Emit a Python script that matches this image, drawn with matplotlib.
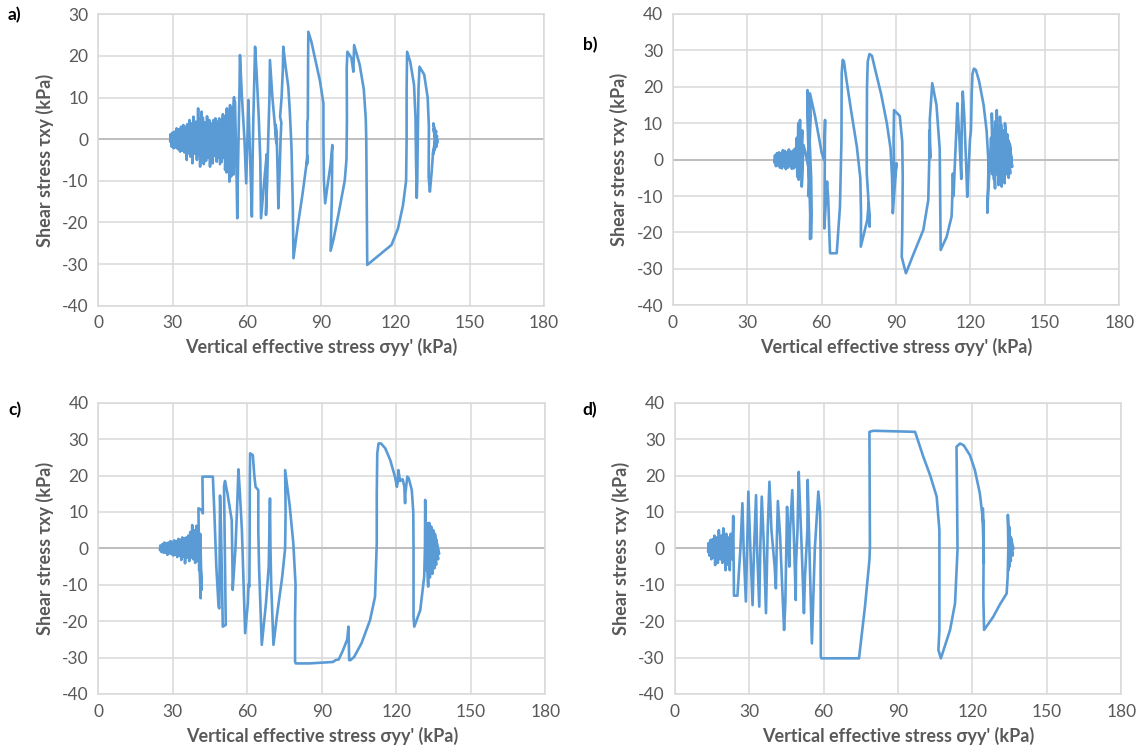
import matplotlib
matplotlib.use("Agg")
import matplotlib.pyplot as plt

plt.rcParams['font.family'] = ['Lato', 'DejaVu Sans']

# ---------------- data ----------------
x_ticks = [0, 30, 60, 90, 120, 150, 180]
y_ticks_a = [-40, -30, -20, -10, 0, 10, 20, 30]
y_ticks_bcd = [-40, -30, -20, -10, 0, 10, 20, 30, 40]
panel_labels = ["a)", "b)", "c)", "d)"]
x_title = "Vertical effective stress σyy' (kPa)"
y_title = "Shear stress τxy (kPa)"

# Panel a: (sigma_yy', tau_xy) pairs
a_right = [(136.0,0.0),(135.4,2.5),(136.6,-1.8),(135.3,3.8),(136.2,1.0),(137.1,-0.5),(135.6,-2.8),
           (136.4,2.0),(135.2,-3.6),(136.8,0.8),(135.8,-2.0),(135.2,-3.0)]
a_loops = [(134.6,-8.0),(133.9,-12.6),(133.4,-9.0),(133.5,3.0),(133.0,10.0),(131.6,15.5),(129.7,17.4),
           (129.3,12.0),(129.0,0.0),(128.8,-10.0),(128.6,-14.1),(128.3,-5.0),(128.1,5.0),(127.5,13.0),
           (126.0,18.5),(124.7,21.0),(124.5,12.0),(124.5,0.0),(124.3,-10.0),(123.0,-16.0),(121.0,-21.5),
           (118.4,-25.4),(108.6,-30.2),(108.4,-15.0),(108.2,0.0),(108.0,5.0),(107.2,12.0),(105.5,18.0),
           (103.3,22.6),(103.0,16.2),(102.2,19.5),(100.6,21.0),(100.3,17.0),(100.4,5.0),(100.2,-5.0),
           (99.5,-10.0),(97.0,-18.0),(95.0,-24.0),(93.8,-26.8),(94.3,-14.0),(94.5,-1.4),(93.8,-6.0),
           (92.6,-11.0),(91.6,-15.4),(91.1,-10.0),(90.9,0.0),(90.9,8.6),(89.5,14.0),(87.5,19.5),
           (86.0,23.5),(84.8,25.8),(84.7,18.0),(84.6,5.0),(84.4,4.0),(84.3,-6.0),(84.5,-4.0),
           (82.5,-13.0),(80.5,-21.0),(78.8,-28.6),(78.5,-15.0),(78.0,-2.0),(77.3,7.0),(76.7,12.6),
           (75.5,18.0),(74.7,22.2),(74.5,16.6),(74.0,10.0),(73.4,5.4),(73.9,4.0),(73.6,0.0),
           (73.2,-8.0),(72.7,-16.6),(72.4,-8.0),(72.0,1.4),(71.6,3.5),(71.9,-1.0),(71.2,4.0),
           (70.3,10.0),(69.3,19.0),(69.1,10.0),(68.6,0.0),(68.2,-10.0),(67.7,-18.2),(68.0,-3.6),
           (67.0,-10.0),(65.7,-19.0),(65.4,-5.0),(64.8,5.0),(64.0,15.0),(63.3,22.2),(63.0,15.0),
           (62.6,5.0),(62.3,-5.0),(62.0,-18.6),(61.3,-5.0),(60.6,9.4),(60.2,0.0),(59.7,-10.6),
           (59.0,0.0),(58.0,10.0),(57.2,20.2),(57.0,12.0),(56.6,0.0),(56.3,-10.0),(56.1,-19.0),
           (55.8,-8.0),(55.5,0.0)]
a_blob = [(55.2,9.0),(54.6,-8.5),(54.8,10.1),(54.0,-7.0),(54.4,6.0),(53.6,-9.0),(53.9,7.5),(52.9,-10.2),
          (53.2,8.2),(52.5,-6.0),(52.6,6.5),(51.8,-8.0),(51.9,7.4),(51.2,-7.4),(51.0,5.5),(50.6,-4.5),
          (50.3,6.0),(49.8,-5.5),(49.9,4.6),(49.1,-6.0),(48.8,5.0),(48.4,-4.5),(48.1,4.2),(47.8,-5.4),
          (47.3,5.0),(46.9,-4.0),(46.5,4.6),(46.2,-5.8),(45.6,3.8),(45.1,-6.6),(44.8,4.6),(44.4,-4.5),
          (43.9,5.5),(43.5,-5.2),(43.0,4.0),(42.6,-6.0),(42.2,5.2),(41.8,-4.2),(41.7,6.6),(41.1,-6.6),
          (40.8,5.0),(40.6,-4.0),(40.3,7.4),(39.8,-5.0),(39.4,4.2),(39.0,-3.5),(38.4,5.4),(38.0,-5.8),
          (37.6,3.8),(37.2,-4.2),(36.8,4.6),(36.3,-3.4),(35.9,3.6),(35.7,-5.0),(35.2,3.0),(34.8,-3.2),
          (34.3,3.4),(33.9,-2.8),(33.4,3.0),(33.0,-3.0),(32.5,2.4),(32.1,-2.4),(31.6,2.6),(31.2,-2.0),
          (30.8,1.8),(30.4,-2.2),(30.0,1.6),(29.6,-1.8),(29.2,1.2),(29.0,-0.6),(29.5,0.8)]

# Panel b
b_right = [(136.5,0.0),(135.8,4.5),(136.8,-2.0),(135.2,5.4),(136.0,-3.8),(134.8,7.0),(135.4,-5.0),
           (133.9,10.0),(134.5,-4.0),(133.4,8.0),(133.8,-6.5),(132.5,9.5),(132.6,-7.4),(131.9,11.8),
           (132.0,-5.0),(131.3,9.0),(131.3,-7.0),(130.6,13.6),(130.5,-4.0),(130.0,10.5),(129.9,-7.9),
           (129.2,8.0),(129.5,-5.5),(128.6,12.7),(128.8,-4.0),(128.3,6.0),(127.8,-2.0),(127.2,-8.0),
           (126.8,-14.6)]
b_loops = [(127.2,-4.0),(127.2,0.0),(126.5,8.0),(125.3,15.0),(123.5,21.5),(122.2,24.6),(121.4,25.0),
           (120.8,23.5),(120.5,18.0),(120.2,8.0),(119.8,5.4),(119.2,-3.0),(118.7,-10.2),(118.3,-2.0),
           (117.5,12.0),(116.9,18.7),(116.5,10.0),(116.3,-5.3),(115.6,5.0),(114.7,15.5),(114.3,8.0),
           (113.6,-3.0),(113.2,-10.0),(112.9,-3.8),(112.6,-12.0),(112.4,-15.6),(110.4,-21.2),
           (108.0,-24.8),(107.8,-10.0),(107.6,3.0),(106.3,15.0),(104.6,21.0),(104.0,15.0),(103.6,10.9),
           (103.8,0.5),(103.4,8.0),(103.4,0.0),(103.0,-11.1),(101.0,-19.3),(97.0,-26.0),(94.0,-31.2),
           (93.5,-30.0),(92.3,-26.7),(92.5,-20.0),(92.7,-5.0),(92.5,5.0),(91.5,12.0),(89.2,13.6),
           (89.0,5.0),(89.3,-6.0),(90.2,-1.0),(89.4,-8.0),(88.7,-14.7),(88.4,-5.0),(87.8,3.0),
           (86.3,10.0),(84.0,18.0),(81.5,25.0),(80.3,28.5),(79.3,29.0),(78.6,27.0),(78.3,20.0),
           (78.2,5.0),(78.2,-3.8),(78.8,-10.2),(79.4,-18.4),(79.0,-12.0),(78.4,-16.6),(75.8,-23.9),
           (75.9,-15.0),(75.6,-5.0),(74.2,3.6),(72.0,13.0),(70.0,22.0),(69.0,27.0),(68.5,27.4),
           (68.1,23.7),(68.0,5.4),(67.4,-12.9),(66.1,-25.7),(63.4,-25.7),(63.0,-18.0),(62.7,-11.1),
           (62.2,-6.0),(61.1,-18.9),(61.4,10.9),(61.0,-0.1),(60.1,1.7),(57.4,11.8),(55.3,18.2),
           (55.6,12.0),(55.2,5.0),(55.8,-5.0),(56.0,-15.0),(55.8,-21.6),(55.3,-21.8),(55.4,-15.0),
           (55.0,-5.0),(54.6,5.0),(54.3,19.1),(54.5,10.0),(54.8,0.0),(55.0,-5.0),(55.3,-8.0),
           (54.6,-10.0),(54.9,-3.0),(53.5,2.0)]
b_blob = [(52.7,4.0),(52.0,-7.4),(52.2,8.0),(51.5,-4.5),(51.3,10.9),(50.8,-5.5),(50.6,10.0),(50.2,-4.7),
          (50.0,6.0),(49.6,-2.0),(49.2,3.0),(48.8,-2.4),(48.5,2.5),(48.0,-2.5),(47.6,2.2),(47.3,-1.8),
          (46.8,2.8),(46.4,-2.2),(46.0,2.0),(45.6,-2.6),(45.2,2.4),(44.8,-1.8),(44.4,2.6),(44.0,-2.4),
          (43.6,1.8),(43.2,-2.2),(42.8,2.0),(42.4,-1.6),(42.0,1.8),(41.6,-1.8),(41.2,1.2),(41.0,-0.8),
          (41.4,0.5)]

# Panel c
c_right = [(136.5,0.0),(137.2,-1.5),(136.0,2.5),(136.8,-3.0),(135.5,4.0),(136.0,-4.5),(134.8,5.0),
           (135.3,-5.5),(134.0,6.0),(134.5,-7.0),(133.2,7.0),(133.5,-8.0),(132.6,6.9),(132.8,-10.5),
           (132.1,5.0),(132.0,-6.0),(131.6,13.3)]
c_loops = [(131.5,0.0),(131.2,-7.8),(129.6,-17.0),(127.2,-21.5),(126.9,-18.8),(126.9,0.0),(126.8,10.0),
           (126.2,16.0),(125.0,19.2),(124.4,19.7),(123.6,15.0),(123.5,12.4),(123.2,17.0),(122.5,19.0),
           (121.5,18.5),(120.8,21.5),(120.5,18.0),(120.2,16.9),(119.5,19.5),(117.5,24.3),(115.5,27.5),
           (113.8,28.8),(112.8,28.8),(112.3,26.0),(112.1,15.0),(112.1,1.4),(111.4,-13.3),(109.4,-19.7),
           (106.0,-26.0),(103.0,-29.8),(101.5,-30.7),(101.0,-30.7),(100.7,-21.5),(100.2,-25.0),
           (98.5,-28.0),(96.8,-30.5),(95.5,-30.7),(94.5,-31.2),(85.0,-31.6),(79.5,-31.6),(79.2,-31.1),
           (79.2,-20.0),(79.4,-10.0),(78.5,1.4),(77.0,12.0),(75.2,21.5),(75.4,10.0),(75.2,0.0),
           (74.0,-8.0),(72.0,-18.0),(70.5,-26.5),(69.6,-10.0),(69.3,0.0),(69.1,13.7),(68.6,-5.0),
           (67.5,-15.0),(65.8,-26.5),(65.2,-15.0),(64.7,-5.0),(64.4,5.0),(64.4,16.0),(63.3,16.9),
           (62.8,20.0),(62.2,25.6),(61.1,26.1),(61.0,20.0),(60.9,0.0),(60.8,-10.5),(60.5,-9.8),
           (60.2,-15.0),(59.1,-23.3),(58.5,-10.0),(57.8,5.0),(57.0,15.0),(56.4,21.7),(55.8,10.0),
           (55.2,0.0),(54.1,-11.4),(54.0,-5.0),(53.7,7.8),(52.0,15.0),(51.0,18.5),(50.6,17.0),
           (50.9,0.0),(51.3,-21.0),(50.1,-21.5),(49.8,-10.0),(49.4,5.0),(49.0,14.5),(48.9,5.0),
           (48.7,-16.5),(48.4,-16.0),(47.5,-5.0),(46.7,10.0),(46.1,19.7),(41.9,19.7),(42.1,9.6),
           (41.6,10.5),(40.3,11.0),(40.5,0.0)]
c_blob = [(41.2,-13.7),(41.0,-3.0),(41.6,-11.4),(41.0,4.0),(40.6,-6.0),(40.3,5.0),(39.8,-3.5),(39.5,6.2),
          (39.0,-4.0),(38.6,5.0),(38.2,-3.0),(37.8,6.4),(37.4,-2.5),(37.0,4.5),(36.6,-3.5),(36.2,3.5),
          (35.8,-2.5),(35.4,3.0),(34.9,-4.1),(34.6,2.8),(34.2,-2.2),(33.8,3.0),(33.4,-3.2),(33.0,2.4),
          (32.6,-2.0),(32.2,2.6),(31.8,-2.4),(31.4,2.0),(31.0,-1.8),(30.6,2.2),(30.2,-2.0),(29.8,1.8),
          (29.4,-1.6),(29.0,2.0),(28.6,-1.4),(28.2,1.6),(27.8,-1.8),(27.4,1.4),(27.0,-1.2),(26.6,1.6),
          (26.2,-1.2),(25.8,1.2),(25.4,-1.0),(25.0,0.8),(24.8,-0.5),(25.2,0.2)]

# Panel d
d_right = [(136.5,0.0),(135.5,3.0),(136.2,-2.0),(135.0,4.0),(135.5,-3.5),(134.8,6.0),(135.0,-5.0),
           (134.3,9.2),(134.6,-6.0),(134.5,0.5)]
d_loops = [(134.2,-8.0),(133.8,-12.4),(131.0,-15.5),(128.4,-18.8),(124.7,-22.4),(124.4,-13.3),
           (124.5,-4.0),(124.2,11.0),(124.6,-4.0),(124.4,6.9),(123.0,15.1),(121.0,21.5),(119.0,25.6),
           (116.5,28.3),(115.0,28.8),(113.6,27.9),(113.8,15.0),(114.0,-0.5),(113.0,-15.1),(111.0,-22.4),
           (107.3,-30.2),(106.3,-27.9),(106.7,-22.4),(106.7,5.0),(105.6,14.2),(103.0,20.0),(100.2,25.2),
           (96.9,32.0),(80.1,32.3),(78.5,32.0),(78.6,15.0),(78.7,0.5),(78.5,-3.2),(76.7,-16.0),
           (74.3,-30.2),(59.1,-30.2),(58.9,-29.7),(58.8,0.0),(58.6,10.0),(57.9,15.6)]
d_zig = [(56.5,0.0),(55.3,-26.1),(54.5,-5.0),(53.6,18.8),(53.5,5.0),(52.5,-8.0),(52.1,-17.8),(51.2,0.0),
         (50.5,12.0),(50.0,21.0),(49.5,5.0),(48.9,-4.3),(48.8,-14.2),(48.2,0.0),(47.4,16.0),(46.5,5.0),
         (46.2,-5.0),(45.8,2.0),(45.3,11.4),(45.0,0.0),(44.6,-15.0),(44.1,-22.4),(43.3,-10.0),(42.5,3.2),
         (41.6,13.0),(41.2,3.0),(40.8,-11.0),(40.3,-5.0),(39.0,5.0),(38.2,18.3),(37.5,5.0),(36.8,-17.8),
         (36.0,0.0),(35.1,14.2),(34.5,0.0),(34.1,-16.0),(33.2,0.0),(32.8,14.6),(32.0,0.0),(31.4,-15.6),
         (30.5,0.0),(29.7,15.6),(29.2,0.0),(28.7,-14.6),(27.8,0.0),(27.3,12.4),(26.5,0.0),(25.3,-13.0),
         (23.9,-13.0),(23.6,8.9)]
d_blob = [(23.2,-3.0),(22.6,4.0),(22.2,-6.0),(21.8,3.0),(21.3,-4.5),(20.8,4.0),(20.5,-6.0),(20.0,3.0),
          (19.6,5.5),(19.2,-4.0),(18.8,3.5),(18.4,-3.0),(17.8,5.0),(17.4,-4.0),(17.0,3.0),(16.6,-3.0),
          (16.3,-4.6),(16.0,3.5),(15.6,-2.5),(15.2,2.5),(14.8,-3.0),(14.4,2.3),(14.0,-2.0),(13.7,1.5),
          (13.5,-1.0),(13.6,0.5)]

panels = [
    (a_right + a_loops + a_blob, y_ticks_a),
    (b_right + b_loops + b_blob, y_ticks_bcd),
    (c_right + c_loops + c_blob, y_ticks_bcd),
    (d_right + d_loops + d_zig + d_blob, y_ticks_bcd),
]

# ---------------- layout ----------------
W, H = 1141, 755
fig = plt.figure(figsize=(W / 100, H / 100), dpi=100)
fig.patch.set_facecolor('white')

rects = [
    [0.0862, 0.5951, 0.3906, 0.3860],
    [0.5896, 0.5956, 0.3914, 0.3859],
    [0.0862, 0.0808, 0.3918, 0.3858],
    [0.5913, 0.0808, 0.3914, 0.3858],
]
label_pos = [(8, 15), (583, 45), (8, 410), (582, 410)]

LINE = '#5B9BD5'
GRID = '#D9D9D9'
TXT = '#595959'

for (path, yt), rect, lab, lp in zip(panels, rects, panel_labels, label_pos):
    ax = fig.add_axes(rect)
    xs = [p[0] for p in path]
    ys = [p[1] for p in path]
    ax.set_xlim(x_ticks[0], x_ticks[-1])
    ax.set_ylim(yt[0], yt[-1])
    ax.set_xticks(x_ticks)
    ax.set_yticks(yt)
    ax.set_xticklabels([str(v) for v in x_ticks])
    ax.set_yticklabels([str(v) for v in yt])
    ax.grid(True, color=GRID, lw=1.1, zorder=0)
    ax.set_axisbelow(True)
    for s in ax.spines.values():
        s.set_color(GRID)
        s.set_linewidth(1.1)
    ax.axhline(0, color='#BFBFBF', lw=1.4, zorder=1)
    ax.plot(xs, ys, color=LINE, lw=1.9, solid_joinstyle='round', zorder=3)
    ax.tick_params(length=0, labelsize=12.5, labelcolor=TXT, pad=7)
    ax.set_xlabel(x_title, fontsize=13, fontweight='bold', color=TXT, labelpad=5)
    ax.set_ylabel(y_title, fontsize=13, fontweight='bold', color=TXT, labelpad=6)
    fig.text(lp[0] / W, 1 - lp[1] / H, lab, fontsize=12.5, fontweight='bold',
             color='black', ha='left', va='center')

fig.savefig('out.png', dpi=100, facecolor='white')
